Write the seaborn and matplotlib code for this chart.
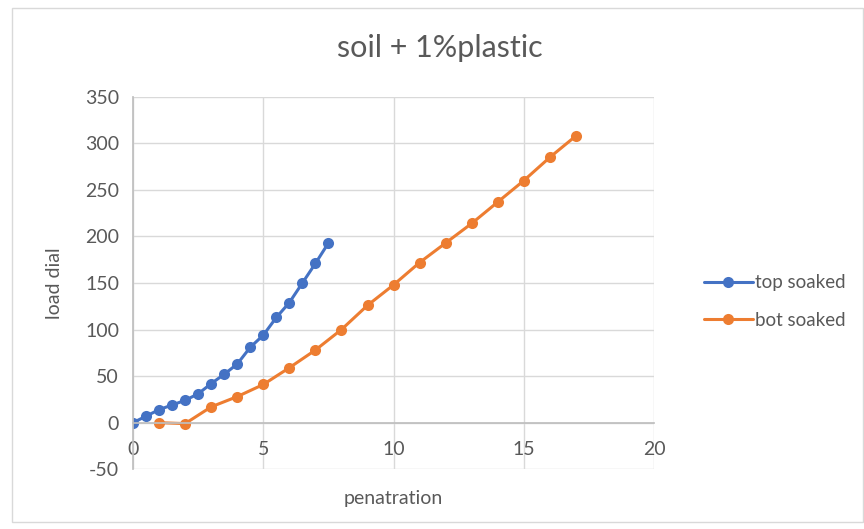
import matplotlib
matplotlib.use("Agg")
import matplotlib.pyplot as plt
import seaborn as sns
import pandas as pd
from matplotlib.patches import Rectangle

# penetration (x) and load dial readings (y)
top_x = [0, 0.5, 1, 1.5, 2, 2.5, 3, 3.5, 4, 4.5, 5, 5.5, 6, 6.5, 7, 7.5]
top_y = [0, 7, 14, 19, 24, 31, 42, 52, 63, 81, 94, 113, 129, 150, 171, 193]

bot_x = [1, 2, 3, 4, 5, 6, 7, 8, 9, 10, 11, 12, 13, 14, 15, 16, 17]
bot_y = [0, -1, 17, 28, 41, 59, 78, 100, 126, 148, 172, 193, 214, 237, 260, 285, 308]

series_names = ["top soaked", "bot soaked"]
colors = ["#4472C4", "#ED7D31"]

df = pd.concat([
    pd.DataFrame({"penatration": top_x, "load dial": top_y, "series": series_names[0]}),
    pd.DataFrame({"penatration": bot_x, "load dial": bot_y, "series": series_names[1]}),
])

sns.set_theme(style="white")
plt.rcParams["font.family"] = ["Lato", "DejaVu Sans"]
plt.rcParams["axes.unicode_minus"] = False
text_color = "#595959"

fig = plt.figure(figsize=(8.64, 5.29), dpi=100)
ax = fig.add_axes([0.154, 0.113, 0.603, 0.704])

sns.lineplot(data=df, x="penatration", y="load dial", hue="series",
             palette=dict(zip(series_names, colors)), sort=False,
             marker="o", markersize=8, markeredgewidth=0, linewidth=2.2,
             ax=ax, legend=True)

ax.set_xlim(0, 20)
ax.set_ylim(-50, 350)
ax.set_xticks([0, 5, 10, 15, 20])
ax.set_yticks(range(-50, 351, 50))
ax.grid(True, color="#D9D9D9", linewidth=1)
ax.set_axisbelow(True)

for side in ["top", "right"]:
    ax.spines[side].set_visible(False)
ax.spines["bottom"].set_position(("data", 0))
ax.spines["left"].set_position(("data", 0))
ax.spines["bottom"].set_color("#BFBFBF")
ax.spines["left"].set_color("#BFBFBF")
ax.tick_params(axis="both", length=0, labelsize=14, colors=text_color)
ax.tick_params(axis="x", pad=13)
ax.tick_params(axis="y", pad=10)

ax.set_xlabel("penatration", fontsize=14, color=text_color)
ax.set_ylabel("load dial", fontsize=14, color=text_color)
ax.xaxis.set_label_coords(0.5, -0.057)
ax.yaxis.set_label_coords(-0.135, 0.5)

fig.text(0.509, 0.91, "soil + 1%plastic", ha="center", va="center",
         fontsize=22, color=text_color)

handles, labels = ax.get_legend_handles_labels()
ax.legend_.remove()
fig.legend(handles, labels, loc="center left", bbox_to_anchor=(0.795, 0.43),
           frameon=False, fontsize=13.5, labelcolor=text_color,
           handlelength=2.6, handletextpad=0.15, labelspacing=1.1)

fig.patches.append(Rectangle((0.014, 0.013), 0.985, 0.972, transform=fig.transFigure,
                             fill=False, edgecolor="#D9D9D9", linewidth=1))

fig.savefig("out.png", dpi=100)
